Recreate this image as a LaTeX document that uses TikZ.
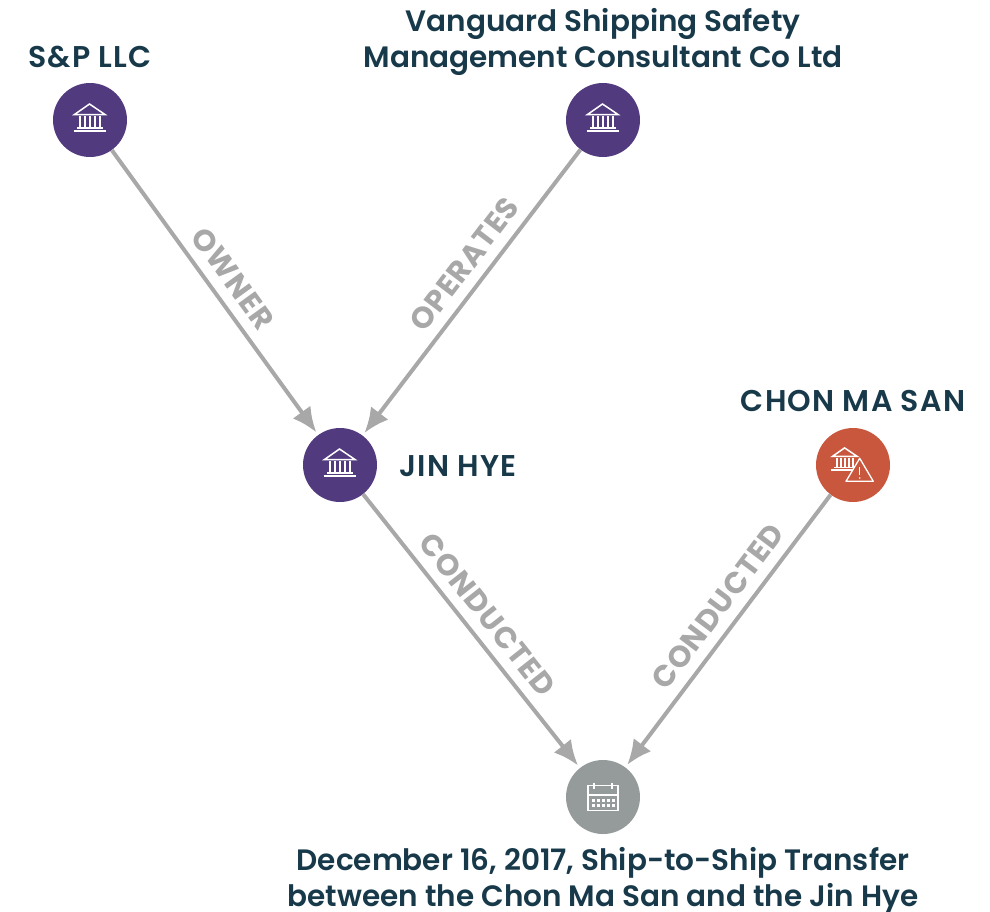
\documentclass[tikz,border=0pt]{standalone}
\usepackage{fontspec}
\setmainfont{Poppins}[BoldFont=Poppins SemiBold]
\newfontfamily\labelfont{Poppins}[BoldFont=Poppins Bold,LetterSpace=3]
\newfontfamily\capsfont{Poppins}[BoldFont=Poppins SemiBold,LetterSpace=4]
\usetikzlibrary{arrows.meta}
\definecolor{VesselPurple}{RGB}{82,58,126}
\definecolor{AlertRed}{RGB}{200,87,61}
\definecolor{EventGrey}{RGB}{149,155,155}
\definecolor{EdgeGrey}{RGB}{168,168,168}
\definecolor{TitleNavy}{RGB}{23,57,74}
\tikzset{
  entity/.style={circle, minimum size=74pt, inner sep=0pt, draw=none},
  title/.style={font=\bfseries\fontsize{29.5}{36}\selectfont, text=TitleNavy, align=center, inner sep=0pt},
  capstitle/.style={font=\capsfont\bfseries\fontsize{30}{36}\selectfont, text=TitleNavy, align=center, inner sep=0pt},
  edgeline/.style={-{Latex[length=25pt,width=22pt]}, line width=4pt, draw=EdgeGrey, shorten >=3pt},
  edgelabel/.style={font=\labelfont\bfseries\fontsize{30}{32}\selectfont, text=EdgeGrey, sloped, inner sep=0pt},
  bankicon/.pic={
    \draw[white, line width=1.5pt, line join=miter] (-15.5,-5.5) -- (-0.5,-16) -- (15,-5.5) -- cycle;
    \foreach \colx in {-10,-5,0,5,10}
      \draw[white, line width=1.5pt] (\colx,-4) -- (\colx,8);
    \draw[white, line width=1.5pt] (-13,8) -- (13,8);
    \draw[white, line width=1.8pt] (-16.5,11) -- (16,11);
  },
  calicon/.pic={
    \draw[white, line width=1.2pt] (-15,-11.3) rectangle (15,13.7);
    \draw[white, line width=1.2pt] (-15,-2) -- (15,-2);
    \draw[white, line width=1.2pt] (-9,-14.5) -- (-9,-8);
    \draw[white, line width=1.2pt] (9,-14.5) -- (9,-8);
    \foreach \dotx in {-10,-5,0,5,10}
      \foreach \doty in {3,8}
        \fill[white] (\dotx-1.5,\doty-1.5) rectangle (\dotx+1.5,\doty+1.5);
  }
}
\begin{document}
\begin{tikzpicture}[x=1pt,y=-1pt]
  \useasboundingbox (0,0) rectangle (990,911);
  % Entities
  \node[entity, fill=VesselPurple] (sp) at (90,120) {};
  \node[entity, fill=VesselPurple] (vanguard) at (603,120) {};
  \node[entity, fill=VesselPurple] (jinhye) at (340,465) {};
  \node[entity, fill=AlertRed] (chonmasan) at (853,465) {};
  \node[entity, fill=EventGrey] (transfer) at (603,797) {};

  % Icons
  \pic at (sp) {bankicon};
  \pic at (vanguard) {bankicon};
  \pic at (jinhye) {bankicon};
  \pic at (transfer) {calicon};
  \begin{scope}[shift={(chonmasan)}]
    \pic[scale=0.82] at (-8,-4) {bankicon};
    \draw[white, fill=AlertRed, line width=1.3pt, line join=round] (6.7,-6.7) -- (20.3,16.3) -- (-7,16.3) -- cycle;
    \draw[white, line width=1.4pt] (6.7,2) -- (6.7,10);
    \fill[white] (6.7,13) circle (0.9pt);
  \end{scope}

  % Titles
  \node[capstitle] (sptitle) at (90,57) {S\&P LLC};
  \node[title] (vanguardtitle) at (603,42) {Vanguard Shipping Safety\\Management Consultant Co Ltd};
  \node[capstitle, anchor=west] (jinhyetitle) at (399,466) {JIN HYE};
  \node[capstitle] (chonmasantitle) at (853,401) {CHON MA SAN};
  \node[title] (transfertitle) at (603,881) {December 16, 2017, Ship-to-Ship Transfer\\between the Chon Ma San and the Jin Hye};

  % Connecting lines
  \draw[edgeline] (sp) -- node[edgelabel, above=10pt, pos=0.497] (ownerlabel) {OWNER} (jinhye);
  \draw[edgeline] (vanguard) -- node[edgelabel, above=10pt, pos=0.45] (operateslabel) {OPERATES} (jinhye);
  \draw[edgeline] (jinhye) -- node[edgelabel, above=10pt, pos=0.492] (conductedlabel) {CONDUCTED} (transfer);
  \draw[edgeline] (chonmasan) -- node[edgelabel, above=10pt, pos=0.46] (conductedlabelb) {CONDUCTED} (transfer);
\end{tikzpicture}
\end{document}
